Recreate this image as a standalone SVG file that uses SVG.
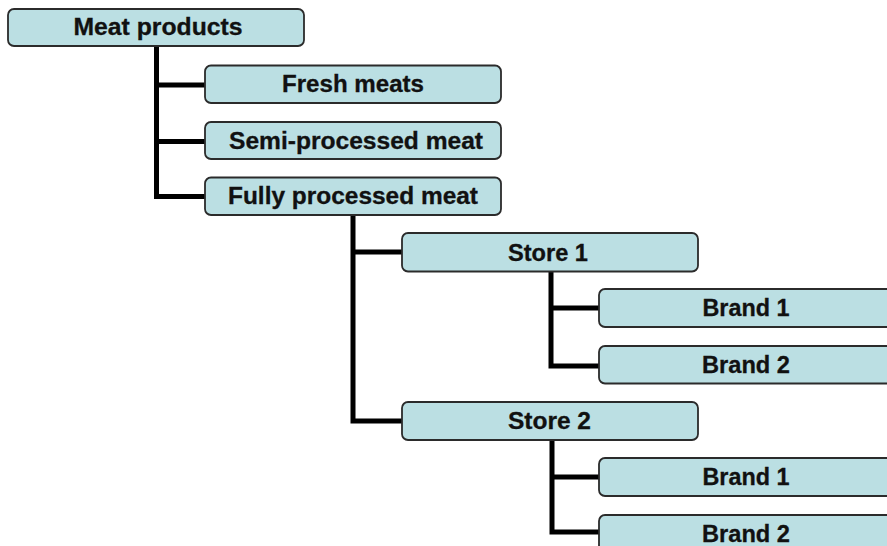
<svg xmlns="http://www.w3.org/2000/svg" width="887" height="546" viewBox="0 0 887 546">
<style>
.box{fill:#bbdfe3;stroke:#2b2b2b;stroke-width:1.8}
.lbl{font-family:"Liberation Sans",Arial,sans-serif;font-weight:bold;font-size:23px;fill:#111;stroke:#111;stroke-width:0.3;text-anchor:middle}
.conn{fill:none;stroke:#000;stroke-width:5;stroke-linejoin:miter}
</style>
<rect width="887" height="546" fill="#fff"/>
<g id="connectors">
<path class="conn" d="M156.5 46 V196.5 M156.5 85 H205 M156.5 141.5 H205 M154 196.5 H205"/>
<path class="conn" d="M353 215 V421 M353 252 H402 M350.5 421 H402"/>
<path class="conn" d="M551 272 V366 M551 308 H599 M548.5 366 H599"/>
<path class="conn" d="M552 440 V532 M552 477 H599 M549.5 532 H599"/>
</g>
<g id="meat-products"><rect class="box" x="8" y="9" width="296" height="37" rx="6"/><text class="lbl" x="158" y="35" textLength="169" lengthAdjust="spacingAndGlyphs">Meat products</text></g>
<g id="fresh-meats"><rect class="box" x="205" y="65.5" width="296" height="37.5" rx="6"/><text class="lbl" x="353" y="92" textLength="142" lengthAdjust="spacingAndGlyphs">Fresh meats</text></g>
<g id="semi-processed"><rect class="box" x="205" y="122" width="296" height="37" rx="6"/><text class="lbl" x="356" y="148.5" textLength="254" lengthAdjust="spacingAndGlyphs">Semi-processed meat</text></g>
<g id="fully-processed"><rect class="box" x="205" y="177.5" width="296" height="37.5" rx="6"/><text class="lbl" x="353" y="204" textLength="250" lengthAdjust="spacingAndGlyphs">Fully processed meat</text></g>
<g id="store-1"><rect class="box" x="402" y="233" width="296" height="38.5" rx="6"/><text class="lbl" x="548" y="260.5" textLength="80" lengthAdjust="spacingAndGlyphs">Store 1</text></g>
<g id="store1-brand-1"><rect class="box" x="599" y="289" width="296" height="38" rx="6"/><text class="lbl" x="746" y="316" textLength="87" lengthAdjust="spacingAndGlyphs">Brand 1</text></g>
<g id="store1-brand-2"><rect class="box" x="599" y="346" width="296" height="37.5" rx="6"/><text class="lbl" x="746" y="373" textLength="88" lengthAdjust="spacingAndGlyphs">Brand 2</text></g>
<g id="store-2"><rect class="box" x="402" y="402" width="296" height="38" rx="6"/><text class="lbl" x="549.5" y="429" textLength="83" lengthAdjust="spacingAndGlyphs">Store 2</text></g>
<g id="store2-brand-1"><rect class="box" x="599" y="458" width="296" height="38" rx="6"/><text class="lbl" x="746" y="485" textLength="87" lengthAdjust="spacingAndGlyphs">Brand 1</text></g>
<g id="store2-brand-2"><rect class="box" x="599" y="515" width="296" height="38" rx="6"/><text class="lbl" x="746" y="542" textLength="88" lengthAdjust="spacingAndGlyphs">Brand 2</text></g>
</svg>
